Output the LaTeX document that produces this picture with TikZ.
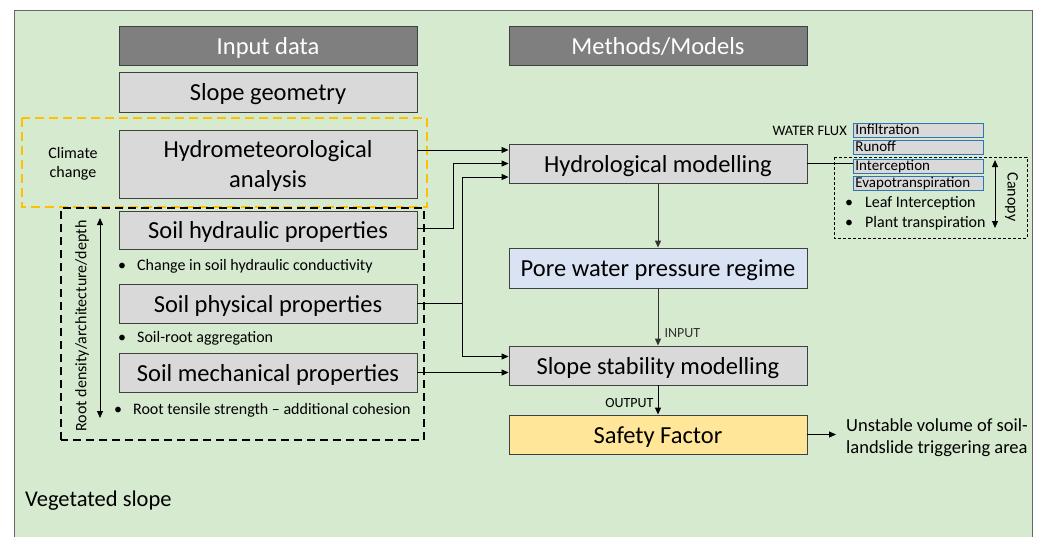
\documentclass[tikz,border=0pt]{standalone}
\usepackage{fontspec}
\setmainfont{Carlito}
\usetikzlibrary{arrows.meta,calc}
\definecolor{bg}{RGB}{214,234,207}
\definecolor{boxgray}{RGB}{217,217,217}
\definecolor{headgray}{RGB}{127,127,127}
\definecolor{porebl}{RGB}{218,227,243}
\definecolor{safey}{RGB}{255,230,153}
\definecolor{fluxbl}{RGB}{46,117,182}
\definecolor{orng}{RGB}{255,192,0}
\definecolor{edge}{RGB}{64,64,64}
\newcommand{\fsz}[2]{\fontsize{#1}{#2}\selectfont}
\begin{document}
\begin{tikzpicture}[x=1pt,y=-1pt,
  box/.style={draw=edge, line width=0.9pt, fill=boxgray, minimum width=298pt, minimum height=39pt, inner sep=0pt, font=\fsz{24.5}{30}, text height=21pt, text depth=4pt},
  headbox/.style={box, fill=headgray, text=white},
  fluxbox/.style={draw=fluxbl, line width=0.8pt, fill=boxgray, text width=126pt, align=left, inner xsep=2pt, inner ysep=0pt, minimum height=14pt, text height=10.5pt, text depth=2.5pt, anchor=west, font=\fsz{15}{15}},
  small/.style={font=\fsz{16}{19}, inner sep=0pt},
  tiny/.style={font=\fsz{14}{16}, inner sep=0pt},
  ln/.style={line width=1pt, black},
  arr/.style={ln, -{Triangle[length=7pt,width=6pt]}},
  darr/.style={ln, {Triangle[length=7pt,width=6pt]}-{Triangle[length=7pt,width=6pt]}}
]
\useasboundingbox (0,0) rectangle (1040,536);
\clip (0,0) rectangle (1040,536);
\fill[white] (0,0) rectangle (1040,536);
\draw[fill=bg, draw=black!60, line width=1pt] (14,560) -- (14,10) -- (1032,10) -- (1032,560);

% headers
\node[headbox] (inhead) at (268,45.5) {Input data};
\node[headbox] (mhead) at (658,45.5) {Methods/Models};

% left column
\node[box, minimum height=40pt] (geom) at (268,92) {Slope geometry};
\node[box, minimum height=68pt, text height=, text depth=] (hydromet) at (268,164) {\raisebox{-2pt}[\height][\depth]{\begin{tabular}{@{}c@{}}Hydrometeorological\\analysis\end{tabular}}};
\node[box, minimum height=38pt] (hydraulic) at (268,230) {Soil hydraulic properties};
\node[box] (physical) at (268,303.5) {Soil physical properties};
\node[box] (mechanical) at (268,372.5) {Soil mechanical properties};

\node[small, anchor=west] (b1) at (118,266) {\makebox[19pt][l]{•}Change in soil hydraulic conductivity};
\node[small, anchor=west] (b2) at (118,338) {\makebox[19pt][l]{•}Soil-root aggregation};
\node[small, anchor=west] (b3) at (114,410) {\makebox[19pt][l]{•}Root tensile strength – additional cohesion};

% dashed groups
\draw[orng, line width=2pt, dash pattern=on 9pt off 5pt] (22,118) rectangle (427,207);
\draw[black, line width=2pt, dash pattern=on 8pt off 5pt] (61,440) -- (61,208) -- (424,208) -- (424,440) -- cycle;
\node[small, align=center] (climate) at (73,164) {Climate\\change};

\coordinate (rtop) at (100,218);
\coordinate (rbot) at (100,418);
\draw[darr] (rbot) -- (rtop);
\node[small, rotate=90] (rootlbl) at (82,326) {Root density/architecture/depth};

% right column
\node[box] (hydro) at (658,163.5) {Hydrological modelling};
\node[box, fill=porebl, minimum height=40pt] (pore) at (658,268) {Pore water pressure regime};
\node[box] (stab) at (658,365.5) {Slope stability modelling};
\node[box, fill=safey] (safety) at (658,434.5) {Safety Factor};

% water flux
\node[tiny, anchor=east, font=\fsz{14.5}{16}] (wflux) at (847,131) {WATER FLUX};
\node[fluxbox] (infil) at (853,130) {Infiltration};
\node[fluxbox] (runoff) at (853,147) {Runoff};
\node[fluxbox] (interc) at (853,166) {Interception};
\node[fluxbox] (evapo) at (853,183.5) {Evapotranspiration};
\draw[black, line width=0.8pt, dash pattern=on 3pt off 2pt] (834,157) rectangle (1027,238);
\node[small, anchor=west] (leaf) at (845,203.5) {\makebox[20pt][l]{•}Leaf Interception};
\node[small, anchor=west] (plant) at (845,223) {\makebox[20pt][l]{•}Plant transpiration};
\coordinate (ctop) at (995,160);
\coordinate (cbot) at (995,228);
\draw[darr] (cbot) -- (ctop);
\node[small, rotate=-90] (canopy) at (1011.5,197) {Canopy};

% connectors
\draw[arr] ([yshift=14pt]hydromet.east) -- ([yshift=14pt]hydromet.east -| hydro.west);
\draw[arr] ([yshift=2pt]hydraulic.east) -- ++(36,0) |- (hydro.west);
\draw[ln] (physical.east) -- ++(45,0) coordinate (jn);
\draw[arr] (jn) |- ([yshift=-13.5pt]hydro.west);
\draw[arr] (jn) |- ([yshift=9pt]stab.west);
\draw[arr] (mechanical.east) -- (mechanical.east -| stab.west);
\draw[ln] (hydro.east) -- (hydro.east -| interc.west);
\draw[arr, black!80] (hydro) -- (pore);
\draw[arr, black!80] (pore) -- node[tiny, pos=0.78, right=6pt] {INPUT} (stab);
\draw[arr] (stab) -- node[tiny, pos=0.6, left=4pt] {OUTPUT} (safety);
\node[anchor=west, align=left, inner sep=0pt, font=\fsz{18.5}{22}] (unst) at (846,437.5) {Unstable volume of soil-\\landslide triggering area};
\draw[arr] (safety.east) -- ([xshift=-10pt]safety.east -| unst.west);

\node[anchor=west, inner sep=0pt, font=\fsz{22.5}{26}] (veg) at (25,501) {Vegetated slope};
\end{tikzpicture}
\end{document}
